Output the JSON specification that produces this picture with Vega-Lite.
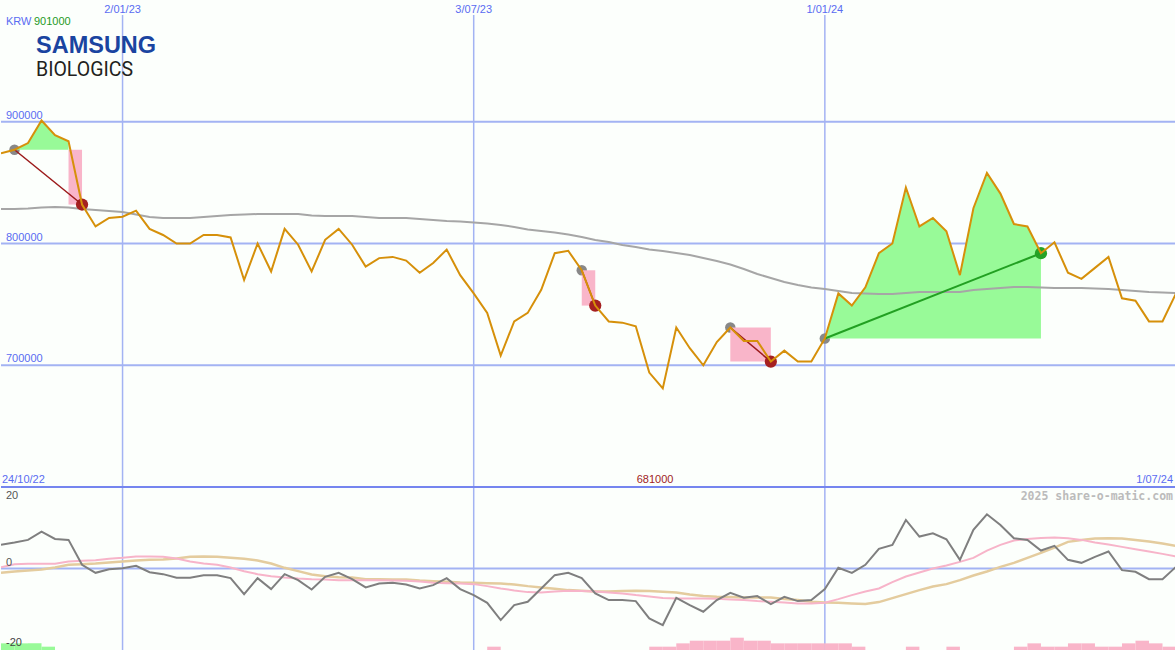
{
"$schema": "https://vega.github.io/schema/vega-lite/v6.json",
"background": "#fcfffc",
"padding": 0,
"spacing": 0,
"bounds": "flush",
"resolve": {"scale": {"x": "independent", "y": "independent", "color": "independent"}},
"config": {"view": {"stroke": null}, "text": {"font": "Liberation Sans", "fontSize": 11}},
"datasets": {
"weekly": [
{"date":"2022-10-31","price":874000,"ma":828300,"mom":7.1,"fast":0.4,"slow":-1.3},
{"date":"2022-11-07","price":877000,"ma":828300,"mom":7.8,"fast":1.3,"slow":-0.9},
{"date":"2022-11-14","price":882500,"ma":828700,"mom":8.6,"fast":1.4,"slow":-0.6},
{"date":"2022-11-21","price":901000,"ma":829600,"mom":11.1,"fast":1.4,"slow":-0.3},
{"date":"2022-11-28","price":889000,"ma":830000,"mom":8.9,"fast":1.4,"slow":0.3},
{"date":"2022-12-05","price":884000,"ma":829600,"mom":8.6,"fast":2.1,"slow":1.1},
{"date":"2022-12-12","price":832000,"ma":828300,"mom":1.1,"fast":2.3,"slow":1.3},
{"date":"2022-12-19","price":814000,"ma":827500,"mom":-1.3,"fast":2.5,"slow":1.5},
{"date":"2022-12-26","price":821000,"ma":826700,"mom":-0.2,"fast":2.9,"slow":1.8},
{"date":"2023-01-02","price":822000,"ma":825900,"mom":0.1,"fast":3.2,"slow":2.1},
{"date":"2023-01-09","price":827000,"ma":823800,"mom":0.8,"fast":3.6,"slow":2.4},
{"date":"2023-01-16","price":812000,"ma":821800,"mom":-1.1,"fast":3.6,"slow":2.6},
{"date":"2023-01-23","price":807000,"ma":820900,"mom":-1.7,"fast":3.5,"slow":2.7},
{"date":"2023-01-30","price":800000,"ma":820900,"mom":-2.8,"fast":3.0,"slow":3.0},
{"date":"2023-02-06","price":800000,"ma":820900,"mom":-2.8,"fast":2.1,"slow":3.5},
{"date":"2023-02-13","price":807000,"ma":821800,"mom":-2.0,"fast":1.5,"slow":3.6},
{"date":"2023-02-20","price":807000,"ma":822600,"mom":-2.0,"fast":1.1,"slow":3.5},
{"date":"2023-02-27","price":805000,"ma":823400,"mom":-2.9,"fast":0.3,"slow":3.2},
{"date":"2023-03-06","price":770000,"ma":823800,"mom":-7.7,"fast":-0.8,"slow":2.9},
{"date":"2023-03-13","price":800000,"ma":824200,"mom":-2.9,"fast":-1.7,"slow":2.4},
{"date":"2023-03-20","price":777000,"ma":824200,"mom":-6.2,"fast":-2.3,"slow":1.5},
{"date":"2023-03-27","price":812000,"ma":824200,"mom":-1.7,"fast":-2.7,"slow":0.2},
{"date":"2023-04-03","price":799000,"ma":824200,"mom":-3.5,"fast":-3.0,"slow":-0.8},
{"date":"2023-04-10","price":777000,"ma":823000,"mom":-6.3,"fast":-3.2,"slow":-1.8},
{"date":"2023-04-17","price":803000,"ma":822600,"mom":-2.5,"fast":-3.3,"slow":-2.3},
{"date":"2023-04-24","price":812000,"ma":822600,"mom":-1.3,"fast":-3.5,"slow":-2.6},
{"date":"2023-05-01","price":799000,"ma":822600,"mom":-3.2,"fast":-3.5,"slow":-2.7},
{"date":"2023-05-08","price":781000,"ma":821800,"mom":-5.7,"fast":-3.5,"slow":-3.2},
{"date":"2023-05-15","price":788000,"ma":820900,"mom":-4.5,"fast":-3.5,"slow":-3.2},
{"date":"2023-05-22","price":789000,"ma":820900,"mom":-4.3,"fast":-3.6,"slow":-3.3},
{"date":"2023-05-29","price":786000,"ma":820900,"mom":-4.8,"fast":-3.7,"slow":-3.3},
{"date":"2023-06-05","price":776000,"ma":820100,"mom":-6.0,"fast":-3.9,"slow":-3.6},
{"date":"2023-06-12","price":784000,"ma":819300,"mom":-5.0,"fast":-4.3,"slow":-3.8},
{"date":"2023-06-19","price":795000,"ma":818500,"mom":-2.9,"fast":-4.4,"slow":-4.0},
{"date":"2023-06-26","price":774000,"ma":818100,"mom":-6.2,"fast":-4.5,"slow":-4.2},
{"date":"2023-07-03","price":759000,"ma":817200,"mom":-8.0,"fast":-4.7,"slow":-4.3},
{"date":"2023-07-10","price":743000,"ma":816400,"mom":-10.3,"fast":-5.3,"slow":-4.4},
{"date":"2023-07-17","price":708000,"ma":815200,"mom":-15.5,"fast":-6.0,"slow":-4.5},
{"date":"2023-07-24","price":736000,"ma":813600,"mom":-11.0,"fast":-6.6,"slow":-4.8},
{"date":"2023-07-31","price":743000,"ma":811500,"mom":-10.0,"fast":-7.1,"slow":-5.3},
{"date":"2023-08-07","price":762000,"ma":810300,"mom":-6.0,"fast":-7.2,"slow":-5.7},
{"date":"2023-08-14","price":792000,"ma":809000,"mom":-2.0,"fast":-6.9,"slow":-6.1},
{"date":"2023-08-21","price":794000,"ma":807400,"mom":-1.3,"fast":-6.7,"slow":-6.5},
{"date":"2023-08-28","price":778000,"ma":805300,"mom":-2.9,"fast":-6.8,"slow":-6.7},
{"date":"2023-09-04","price":749000,"ma":802900,"mom":-7.5,"fast":-6.9,"slow":-6.9},
{"date":"2023-09-11","price":736000,"ma":801200,"mom":-9.5,"fast":-7.2,"slow":-6.9},
{"date":"2023-09-18","price":735000,"ma":798800,"mom":-9.5,"fast":-7.5,"slow":-6.8},
{"date":"2023-09-25","price":732000,"ma":797100,"mom":-9.8,"fast":-8.0,"slow":-6.7},
{"date":"2023-10-02","price":694000,"ma":795100,"mom":-15.0,"fast":-8.4,"slow":-6.8},
{"date":"2023-10-09","price":681000,"ma":793800,"mom":-17.0,"fast":-8.9,"slow":-7.0},
{"date":"2023-10-16","price":731000,"ma":792200,"mom":-8.8,"fast":-9.0,"slow":-7.2},
{"date":"2023-10-23","price":714000,"ma":790600,"mom":-11.0,"fast":-9.0,"slow":-7.8},
{"date":"2023-10-30","price":700000,"ma":788100,"mom":-13.0,"fast":-9.0,"slow":-8.3},
{"date":"2023-11-06","price":719000,"ma":785600,"mom":-9.5,"fast":-9.1,"slow":-8.5},
{"date":"2023-11-13","price":731000,"ma":782800,"mom":-7.3,"fast":-9.3,"slow":-8.6},
{"date":"2023-11-20","price":720000,"ma":779100,"mom":-8.8,"fast":-9.5,"slow":-8.7},
{"date":"2023-11-27","price":720000,"ma":774900,"mom":-8.3,"fast":-9.8,"slow":-8.7},
{"date":"2023-12-04","price":703000,"ma":771700,"mom":-10.7,"fast":-10.0,"slow":-8.7},
{"date":"2023-12-11","price":712000,"ma":768400,"mom":-8.5,"fast":-10.2,"slow":-9.2},
{"date":"2023-12-18","price":703000,"ma":765900,"mom":-9.8,"fast":-10.5,"slow":-9.5},
{"date":"2023-12-25","price":703000,"ma":763900,"mom":-9.5,"fast":-10.5,"slow":-10.0},
{"date":"2024-01-01","price":722000,"ma":762600,"mom":-6.2,"fast":-10.3,"slow":-10.2},
{"date":"2024-01-08","price":759000,"ma":761000,"mom":0.2,"fast":-9.2,"slow":-10.3},
{"date":"2024-01-15","price":749000,"ma":759300,"mom":-1.3,"fast":-8.0,"slow":-10.5},
{"date":"2024-01-22","price":764000,"ma":758900,"mom":1.1,"fast":-6.9,"slow":-10.7},
{"date":"2024-01-29","price":792000,"ma":758500,"mom":5.9,"fast":-6.0,"slow":-10.1},
{"date":"2024-02-05","price":800000,"ma":758500,"mom":7.1,"fast":-4.1,"slow":-8.9},
{"date":"2024-02-12","price":846000,"ma":759300,"mom":14.6,"fast":-2.4,"slow":-7.7},
{"date":"2024-02-19","price":814000,"ma":760200,"mom":9.6,"fast":-1.2,"slow":-6.5},
{"date":"2024-02-26","price":821000,"ma":760200,"mom":10.6,"fast":0.0,"slow":-5.4},
{"date":"2024-03-04","price":810000,"ma":760200,"mom":8.8,"fast":0.9,"slow":-4.7},
{"date":"2024-03-11","price":774000,"ma":760200,"mom":2.6,"fast":2.0,"slow":-3.5},
{"date":"2024-03-18","price":829000,"ma":761800,"mom":11.6,"fast":3.2,"slow":-2.1},
{"date":"2024-03-25","price":858000,"ma":762600,"mom":16.3,"fast":5.4,"slow":-0.9},
{"date":"2024-04-01","price":841000,"ma":763400,"mom":13.1,"fast":7.1,"slow":0.5},
{"date":"2024-04-08","price":816000,"ma":764300,"mom":9.1,"fast":8.4,"slow":1.7},
{"date":"2024-04-15","price":814000,"ma":764300,"mom":8.6,"fast":8.9,"slow":3.2},
{"date":"2024-04-22","price":792000,"ma":763900,"mom":5.4,"fast":9.2,"slow":4.7},
{"date":"2024-04-29","price":801000,"ma":763400,"mom":6.8,"fast":9.3,"slow":6.3},
{"date":"2024-05-06","price":776000,"ma":763400,"mom":2.6,"fast":9.1,"slow":8.0},
{"date":"2024-05-13","price":771000,"ma":763400,"mom":1.7,"fast":8.6,"slow":8.6},
{"date":"2024-05-20","price":780000,"ma":763000,"mom":3.5,"fast":7.8,"slow":9.0},
{"date":"2024-05-27","price":789000,"ma":762600,"mom":5.1,"fast":7.2,"slow":9.1},
{"date":"2024-06-03","price":755000,"ma":761800,"mom":-0.5,"fast":6.5,"slow":9.0},
{"date":"2024-06-10","price":753000,"ma":761000,"mom":-1.0,"fast":5.8,"slow":8.6},
{"date":"2024-06-17","price":736000,"ma":760200,"mom":-3.2,"fast":5.1,"slow":8.1},
{"date":"2024-06-24","price":736000,"ma":759800,"mom":-3.2,"fast":4.4,"slow":7.5},
{"date":"2024-07-01","price":759000,"ma":759300,"mom":0.5,"fast":3.6,"slow":6.8}
],
"gains": [
{"trade":1,"date":"2022-11-07","price":877000,"base":877000},
{"trade":1,"date":"2022-11-14","price":882500,"base":877000},
{"trade":1,"date":"2022-11-21","price":901000,"base":877000},
{"trade":1,"date":"2022-11-28","price":889000,"base":877000},
{"trade":1,"date":"2022-12-05","price":884000,"base":877000},
{"trade":4,"date":"2024-01-01","price":722000,"base":722000},
{"trade":4,"date":"2024-01-08","price":759000,"base":722000},
{"trade":4,"date":"2024-01-15","price":749000,"base":722000},
{"trade":4,"date":"2024-01-22","price":764000,"base":722000},
{"trade":4,"date":"2024-01-29","price":792000,"base":722000},
{"trade":4,"date":"2024-02-05","price":800000,"base":722000},
{"trade":4,"date":"2024-02-12","price":846000,"base":722000},
{"trade":4,"date":"2024-02-19","price":814000,"base":722000},
{"trade":4,"date":"2024-02-26","price":821000,"base":722000},
{"trade":4,"date":"2024-03-04","price":810000,"base":722000},
{"trade":4,"date":"2024-03-11","price":774000,"base":722000},
{"trade":4,"date":"2024-03-18","price":829000,"base":722000},
{"trade":4,"date":"2024-03-25","price":858000,"base":722000},
{"trade":4,"date":"2024-04-01","price":841000,"base":722000},
{"trade":4,"date":"2024-04-08","price":816000,"base":722000},
{"trade":4,"date":"2024-04-15","price":814000,"base":722000},
{"trade":4,"date":"2024-04-22","price":792000,"base":722000}
],
"losses": [
{"start":"2022-12-05","end":"2022-12-12","top":877000,"bottom":832000},
{"start":"2023-08-28","end":"2023-09-04","top":778000,"bottom":749000},
{"start":"2023-11-13","end":"2023-12-04","top":731000,"bottom":703000}
],
"trades": [
{"entry_date":"2022-11-07","entry":877000,"exit_date":"2022-12-12","exit":832000,"result":"loss"},
{"entry_date":"2023-08-28","entry":778000,"exit_date":"2023-09-04","exit":749000,"result":"loss"},
{"entry_date":"2023-11-13","entry":731000,"exit_date":"2023-12-04","exit":703000,"result":"loss"},
{"entry_date":"2024-01-01","entry":722000,"exit_date":"2024-04-22","exit":792000,"result":"win"}
],
"dates": [
{"date":"2023-01-02","label":"2/01/23"},
{"date":"2023-07-03","label":"3/07/23"},
{"date":"2024-01-01","label":"1/01/24"}
],
"bars": [
{"date":"2022-10-31","end":"2022-11-07","h":2,"dir":"up"},
{"date":"2022-11-07","end":"2022-11-14","h":2,"dir":"up"},
{"date":"2022-11-14","end":"2022-11-21","h":2,"dir":"up"},
{"date":"2022-11-21","end":"2022-11-28","h":1,"dir":"up"},
{"date":"2023-07-10","end":"2023-07-17","h":1,"dir":"down"},
{"date":"2023-10-02","end":"2023-10-09","h":1,"dir":"down"},
{"date":"2023-10-09","end":"2023-10-16","h":1,"dir":"down"},
{"date":"2023-10-16","end":"2023-10-23","h":2,"dir":"down"},
{"date":"2023-10-23","end":"2023-10-30","h":2.8,"dir":"down"},
{"date":"2023-10-30","end":"2023-11-06","h":2.8,"dir":"down"},
{"date":"2023-11-06","end":"2023-11-13","h":2.8,"dir":"down"},
{"date":"2023-11-13","end":"2023-11-20","h":3.7,"dir":"down"},
{"date":"2023-11-20","end":"2023-11-27","h":2.8,"dir":"down"},
{"date":"2023-11-27","end":"2023-12-04","h":2.8,"dir":"down"},
{"date":"2023-12-04","end":"2023-12-11","h":2,"dir":"down"},
{"date":"2023-12-11","end":"2023-12-18","h":2,"dir":"down"},
{"date":"2023-12-18","end":"2023-12-25","h":2,"dir":"down"},
{"date":"2023-12-25","end":"2024-01-01","h":2,"dir":"down"},
{"date":"2024-01-01","end":"2024-01-08","h":2,"dir":"down"},
{"date":"2024-01-08","end":"2024-01-15","h":2,"dir":"down"},
{"date":"2024-01-15","end":"2024-01-22","h":1,"dir":"down"},
{"date":"2024-02-12","end":"2024-02-19","h":1,"dir":"down"},
{"date":"2024-03-04","end":"2024-03-11","h":1,"dir":"down"},
{"date":"2024-04-08","end":"2024-04-15","h":1,"dir":"down"},
{"date":"2024-04-15","end":"2024-04-22","h":2,"dir":"down"},
{"date":"2024-04-22","end":"2024-04-29","h":1,"dir":"down"},
{"date":"2024-04-29","end":"2024-05-06","h":1,"dir":"down"},
{"date":"2024-05-06","end":"2024-05-13","h":2,"dir":"down"},
{"date":"2024-05-13","end":"2024-05-20","h":2,"dir":"down"},
{"date":"2024-05-20","end":"2024-05-27","h":1,"dir":"down"},
{"date":"2024-05-27","end":"2024-06-03","h":1,"dir":"down"},
{"date":"2024-06-03","end":"2024-06-10","h":2,"dir":"down"},
{"date":"2024-06-10","end":"2024-06-17","h":2.8,"dir":"down"},
{"date":"2024-06-17","end":"2024-06-24","h":2,"dir":"down"},
{"date":"2024-06-24","end":"2024-07-01","h":1,"dir":"down"}
]
},
"vconcat": [
{
"width": 1175, "height": 487,
"resolve": {"scale": {"color": "independent"}},
"layer": [
{"data": {"values": [{"p":700000},{"p":800000},{"p":900000}]},
 "mark": {"type":"rule","color":"#a3b3f3","strokeWidth":2},
 "encoding": {"y": {"field":"p","type":"quantitative","scale":{"domain":[600000,1000000],"nice":false,"zero":false},"axis":null}}},
{"data": {"name":"dates"},
 "mark": {"type":"rule","color":"#a3b3f3","strokeWidth":1.5},
 "encoding": {
  "x": {"field":"date","type":"temporal","scale":{"type":"utc","domain":[{"year":2022,"month":10,"date":31,"utc":true},{"year":2024,"month":7,"date":1,"utc":true}]},"axis":null},
  "y": {"datum":600000,"type":"quantitative","scale":{"domain":[600000,1000000],"nice":false,"zero":false},"axis":null},
  "y2": {"datum":987700}}},
{"data": {"name":"trades"},
 "mark": {"type":"point","filled":true,"color":"#888888","opacity":1,"size":110},
 "encoding": {
  "x": {"field":"entry_date","type":"temporal","scale":{"type":"utc","domain":[{"year":2022,"month":10,"date":31,"utc":true},{"year":2024,"month":7,"date":1,"utc":true}]},"axis":null},
  "y": {"field":"entry","type":"quantitative","scale":{"domain":[600000,1000000],"nice":false,"zero":false},"axis":null}}},
{"data": {"name":"gains"},
 "mark": {"type":"area","color":"#98fa98","opacity":1,"clip":true},
 "encoding": {
  "x": {"field":"date","type":"temporal","scale":{"type":"utc","domain":[{"year":2022,"month":10,"date":31,"utc":true},{"year":2024,"month":7,"date":1,"utc":true}]},"axis":null},
  "y": {"field":"price","type":"quantitative","scale":{"domain":[600000,1000000],"nice":false,"zero":false},"axis":null},
  "y2": {"field":"base"},
  "detail": {"field":"trade","type":"nominal"}}},
{"data": {"name":"losses"},
 "mark": {"type":"rect","color":"#f9b5c9","opacity":1},
 "encoding": {
  "x": {"field":"start","type":"temporal","scale":{"type":"utc","domain":[{"year":2022,"month":10,"date":31,"utc":true},{"year":2024,"month":7,"date":1,"utc":true}]},"axis":null},
  "x2": {"field":"end"},
  "y": {"field":"top","type":"quantitative","scale":{"domain":[600000,1000000],"nice":false,"zero":false},"axis":null},
  "y2": {"field":"bottom"}}},
{"data": {"name":"weekly"},
 "mark": {"type":"line","color":"#a6a6a6","strokeWidth":2,"clip":true},
 "encoding": {
  "x": {"field":"date","type":"temporal","scale":{"type":"utc","domain":[{"year":2022,"month":10,"date":31,"utc":true},{"year":2024,"month":7,"date":1,"utc":true}]},"axis":null},
  "y": {"field":"ma","type":"quantitative","scale":{"domain":[600000,1000000],"nice":false,"zero":false},"axis":null}}},
{"data": {"name":"trades"},
 "mark": {"type":"point","filled":true,"opacity":1,"size":150},
 "encoding": {
  "x": {"field":"exit_date","type":"temporal","scale":{"type":"utc","domain":[{"year":2022,"month":10,"date":31,"utc":true},{"year":2024,"month":7,"date":1,"utc":true}]},"axis":null},
  "y": {"field":"exit","type":"quantitative","scale":{"domain":[600000,1000000],"nice":false,"zero":false},"axis":null},
  "color": {"field":"result","type":"nominal","scale":{"domain":["loss","win"],"range":["#a52020","#26a226"]},"legend":null}}},
{"data": {"name":"trades"},
 "mark": {"type":"rule"},
 "encoding": {
  "x": {"field":"entry_date","type":"temporal","scale":{"type":"utc","domain":[{"year":2022,"month":10,"date":31,"utc":true},{"year":2024,"month":7,"date":1,"utc":true}]},"axis":null},
  "x2": {"field":"exit_date"},
  "y": {"field":"entry","type":"quantitative","scale":{"domain":[600000,1000000],"nice":false,"zero":false},"axis":null},
  "y2": {"field":"exit"},
  "color": {"field":"result","type":"nominal","scale":{"domain":["loss","win"],"range":["#9c1a1a","#22a022"]},"legend":null},
  "strokeWidth": {"field":"result","type":"nominal","scale":{"domain":["loss","win"],"range":[1.5,2]},"legend":null}}},
{"data": {"name":"weekly"},
 "mark": {"type":"line","color":"#d6900a","strokeWidth":2,"clip":true},
 "encoding": {
  "x": {"field":"date","type":"temporal","scale":{"type":"utc","domain":[{"year":2022,"month":10,"date":31,"utc":true},{"year":2024,"month":7,"date":1,"utc":true}]},"axis":null},
  "y": {"field":"price","type":"quantitative","scale":{"domain":[600000,1000000],"nice":false,"zero":false},"axis":null}}},
{"data": {"values": [{"p":700000,"label":"700000"},{"p":800000,"label":"800000"},{"p":900000,"label":"900000"}]},
 "mark": {"type":"text","align":"left","baseline":"alphabetic","dx":5,"dy":-3,"color":"#5a6cf2"},
 "encoding": {
  "x": {"datum":{"year":2022,"month":10,"date":31,"utc":true},"type":"temporal","scale":{"type":"utc","domain":[{"year":2022,"month":10,"date":31,"utc":true},{"year":2024,"month":7,"date":1,"utc":true}]},"axis":null},
  "y": {"field":"p","type":"quantitative","scale":{"domain":[600000,1000000],"nice":false,"zero":false},"axis":null},
  "text": {"field":"label"}}},
{"data": {"name":"dates"},
 "mark": {"type":"text","align":"center","baseline":"alphabetic","dy":13,"color":"#5a6cf2"},
 "encoding": {
  "x": {"field":"date","type":"temporal","scale":{"type":"utc","domain":[{"year":2022,"month":10,"date":31,"utc":true},{"year":2024,"month":7,"date":1,"utc":true}]},"axis":null},
  "y": {"datum":1000000,"type":"quantitative","scale":{"domain":[600000,1000000],"nice":false,"zero":false},"axis":null},
  "text": {"field":"label"}}},
{"data": {"values": [{"label":"KRW"}]},
 "mark": {"type":"text","align":"left","baseline":"alphabetic","dx":5,"dy":24.5,"color":"#5a6cf2"},
 "encoding": {
  "x": {"datum":{"year":2022,"month":10,"date":31,"utc":true},"type":"temporal","scale":{"type":"utc","domain":[{"year":2022,"month":10,"date":31,"utc":true},{"year":2024,"month":7,"date":1,"utc":true}]},"axis":null},
  "y": {"datum":1000000,"type":"quantitative","scale":{"domain":[600000,1000000],"nice":false,"zero":false},"axis":null},
  "text": {"field":"label"}}},
{"data": {"values": [{"label":"901000"}]},
 "mark": {"type":"text","align":"left","baseline":"alphabetic","dx":33,"dy":24.5,"color":"#1f9a1f"},
 "encoding": {
  "x": {"datum":{"year":2022,"month":10,"date":31,"utc":true},"type":"temporal","scale":{"type":"utc","domain":[{"year":2022,"month":10,"date":31,"utc":true},{"year":2024,"month":7,"date":1,"utc":true}]},"axis":null},
  "y": {"datum":1000000,"type":"quantitative","scale":{"domain":[600000,1000000],"nice":false,"zero":false},"axis":null},
  "text": {"field":"label"}}},
{"data": {"values": [{"label":"SAMSUNG"}]},
 "mark": {"type":"text","align":"left","baseline":"alphabetic","dx":35,"dy":52.5,"color":"#1a44a0","font":"Liberation Sans","fontWeight":"bold","fontSize":23.5},
 "encoding": {
  "x": {"datum":{"year":2022,"month":10,"date":31,"utc":true},"type":"temporal","scale":{"type":"utc","domain":[{"year":2022,"month":10,"date":31,"utc":true},{"year":2024,"month":7,"date":1,"utc":true}]},"axis":null},
  "y": {"datum":1000000,"type":"quantitative","scale":{"domain":[600000,1000000],"nice":false,"zero":false},"axis":null},
  "text": {"field":"label"}}},
{"data": {"values": [{"label":"BIOLOGICS"}]},
 "mark": {"type":"text","align":"left","baseline":"alphabetic","dx":35,"dy":76,"color":"#231f20","font":"Roboto","fontSize":19.5},
 "encoding": {
  "x": {"datum":{"year":2022,"month":10,"date":31,"utc":true},"type":"temporal","scale":{"type":"utc","domain":[{"year":2022,"month":10,"date":31,"utc":true},{"year":2024,"month":7,"date":1,"utc":true}]},"axis":null},
  "y": {"datum":1000000,"type":"quantitative","scale":{"domain":[600000,1000000],"nice":false,"zero":false},"axis":null},
  "text": {"field":"label"}}},
{"data": {"values": [{"label":"24/10/22"}]},
 "mark": {"type":"text","align":"left","baseline":"alphabetic","dx":1,"dy":-4,"color":"#5a6cf2"},
 "encoding": {
  "x": {"datum":{"year":2022,"month":10,"date":31,"utc":true},"type":"temporal","scale":{"type":"utc","domain":[{"year":2022,"month":10,"date":31,"utc":true},{"year":2024,"month":7,"date":1,"utc":true}]},"axis":null},
  "y": {"datum":600000,"type":"quantitative","scale":{"domain":[600000,1000000],"nice":false,"zero":false},"axis":null},
  "text": {"field":"label"}}},
{"data": {"values": [{"label":"681000","date":"2023-10-05"}]},
 "mark": {"type":"text","align":"center","baseline":"alphabetic","dy":-4,"color":"#a01c1c"},
 "encoding": {
  "x": {"field":"date","type":"temporal","scale":{"type":"utc","domain":[{"year":2022,"month":10,"date":31,"utc":true},{"year":2024,"month":7,"date":1,"utc":true}]},"axis":null},
  "y": {"datum":600000,"type":"quantitative","scale":{"domain":[600000,1000000],"nice":false,"zero":false},"axis":null},
  "text": {"field":"label"}}},
{"data": {"values": [{"label":"1/07/24"}]},
 "mark": {"type":"text","align":"right","baseline":"alphabetic","dx":-3,"dy":-4,"color":"#5a6cf2"},
 "encoding": {
  "x": {"datum":{"year":2024,"month":7,"date":1,"utc":true},"type":"temporal","scale":{"type":"utc","domain":[{"year":2022,"month":10,"date":31,"utc":true},{"year":2024,"month":7,"date":1,"utc":true}]},"axis":null},
  "y": {"datum":600000,"type":"quantitative","scale":{"domain":[600000,1000000],"nice":false,"zero":false},"axis":null},
  "text": {"field":"label"}}}
]
},
{
"width": 1175, "height": 163,
"resolve": {"scale": {"y": "independent"}},
"layer": [
{"data": {"values": [{"v":0}]},
 "mark": {"type":"rule","color":"#a3b3f3","strokeWidth":2},
 "encoding": {"y": {"field":"v","type":"quantitative","scale":{"domain":[-24.5,24.5],"nice":false,"zero":false},"axis":null}}},
{"data": {"name":"dates"},
 "mark": {"type":"rule","color":"#a3b3f3","strokeWidth":1.5},
 "encoding": {"x": {"field":"date","type":"temporal","scale":{"type":"utc","domain":[{"year":2022,"month":10,"date":31,"utc":true},{"year":2024,"month":7,"date":1,"utc":true}]},"axis":null}}},
{"data": {"name":"bars"},
 "mark": {"type":"rect","opacity":1},
 "encoding": {
  "x": {"field":"date","type":"temporal","scale":{"type":"utc","domain":[{"year":2022,"month":10,"date":31,"utc":true},{"year":2024,"month":7,"date":1,"utc":true}]},"axis":null},
  "x2": {"field":"end"},
  "y": {"field":"h","type":"quantitative","scale":{"domain":[0,49],"nice":false,"zero":true},"axis":null},
  "y2": {"datum":0},
  "color": {"field":"dir","type":"nominal","scale":{"domain":["up","down"],"range":["#98fa98","#f9b5c9"]},"legend":null}}},
{"data": {"name":"weekly"},
 "mark": {"type":"line","color":"#e4cc9e","strokeWidth":2.5,"clip":true},
 "encoding": {
  "x": {"field":"date","type":"temporal","scale":{"type":"utc","domain":[{"year":2022,"month":10,"date":31,"utc":true},{"year":2024,"month":7,"date":1,"utc":true}]},"axis":null},
  "y": {"field":"slow","type":"quantitative","scale":{"domain":[-24.5,24.5],"nice":false,"zero":false},"axis":null}}},
{"data": {"name":"weekly"},
 "mark": {"type":"line","color":"#f7b4c9","strokeWidth":2,"clip":true},
 "encoding": {
  "x": {"field":"date","type":"temporal","scale":{"type":"utc","domain":[{"year":2022,"month":10,"date":31,"utc":true},{"year":2024,"month":7,"date":1,"utc":true}]},"axis":null},
  "y": {"field":"fast","type":"quantitative","scale":{"domain":[-24.5,24.5],"nice":false,"zero":false},"axis":null}}},
{"data": {"name":"weekly"},
 "mark": {"type":"line","color":"#7f7f7f","strokeWidth":2,"clip":true},
 "encoding": {
  "x": {"field":"date","type":"temporal","scale":{"type":"utc","domain":[{"year":2022,"month":10,"date":31,"utc":true},{"year":2024,"month":7,"date":1,"utc":true}]},"axis":null},
  "y": {"field":"mom","type":"quantitative","scale":{"domain":[-24.5,24.5],"nice":false,"zero":false},"axis":null}}},
{"data": {"values": [{"v":24.5}]},
 "mark": {"type":"rule","color":"#7585ef","strokeWidth":2},
 "encoding": {"y": {"field":"v","type":"quantitative","scale":{"domain":[-24.5,24.5],"nice":false,"zero":false},"axis":null}}},
{"data": {"values": [{"v":20,"label":"20"},{"v":0,"label":"0"}]},
 "mark": {"type":"text","align":"left","baseline":"alphabetic","dx":5,"dy":-3,"color":"#555555"},
 "encoding": {
  "x": {"datum":{"year":2022,"month":10,"date":31,"utc":true},"type":"temporal","scale":{"type":"utc","domain":[{"year":2022,"month":10,"date":31,"utc":true},{"year":2024,"month":7,"date":1,"utc":true}]},"axis":null},
  "y": {"field":"v","type":"quantitative","scale":{"domain":[-24.5,24.5],"nice":false,"zero":false},"axis":null},
  "text": {"field":"label"}}},
{"data": {"values": [{"label":"-20"}]},
 "mark": {"type":"text","align":"left","baseline":"alphabetic","dx":5,"dy":-4,"color":"#444444"},
 "encoding": {
  "x": {"datum":{"year":2022,"month":10,"date":31,"utc":true},"type":"temporal","scale":{"type":"utc","domain":[{"year":2022,"month":10,"date":31,"utc":true},{"year":2024,"month":7,"date":1,"utc":true}]},"axis":null},
  "y": {"datum":-24.5,"type":"quantitative","scale":{"domain":[-24.5,24.5],"nice":false,"zero":false},"axis":null},
  "text": {"field":"label"}}},
{"data": {"values": [{"label":"2025 share-o-matic.com"}]},
 "mark": {"type":"text","align":"right","baseline":"alphabetic","dx":-3,"dy":13,"color":"#bbbbbb","font":"DejaVu Sans Mono","fontWeight":"bold","fontSize":11.5},
 "encoding": {
  "x": {"datum":{"year":2024,"month":7,"date":1,"utc":true},"type":"temporal","scale":{"type":"utc","domain":[{"year":2022,"month":10,"date":31,"utc":true},{"year":2024,"month":7,"date":1,"utc":true}]},"axis":null},
  "y": {"datum":24.5,"type":"quantitative","scale":{"domain":[-24.5,24.5],"nice":false,"zero":false},"axis":null},
  "text": {"field":"label"}}}
]
}
]
}
